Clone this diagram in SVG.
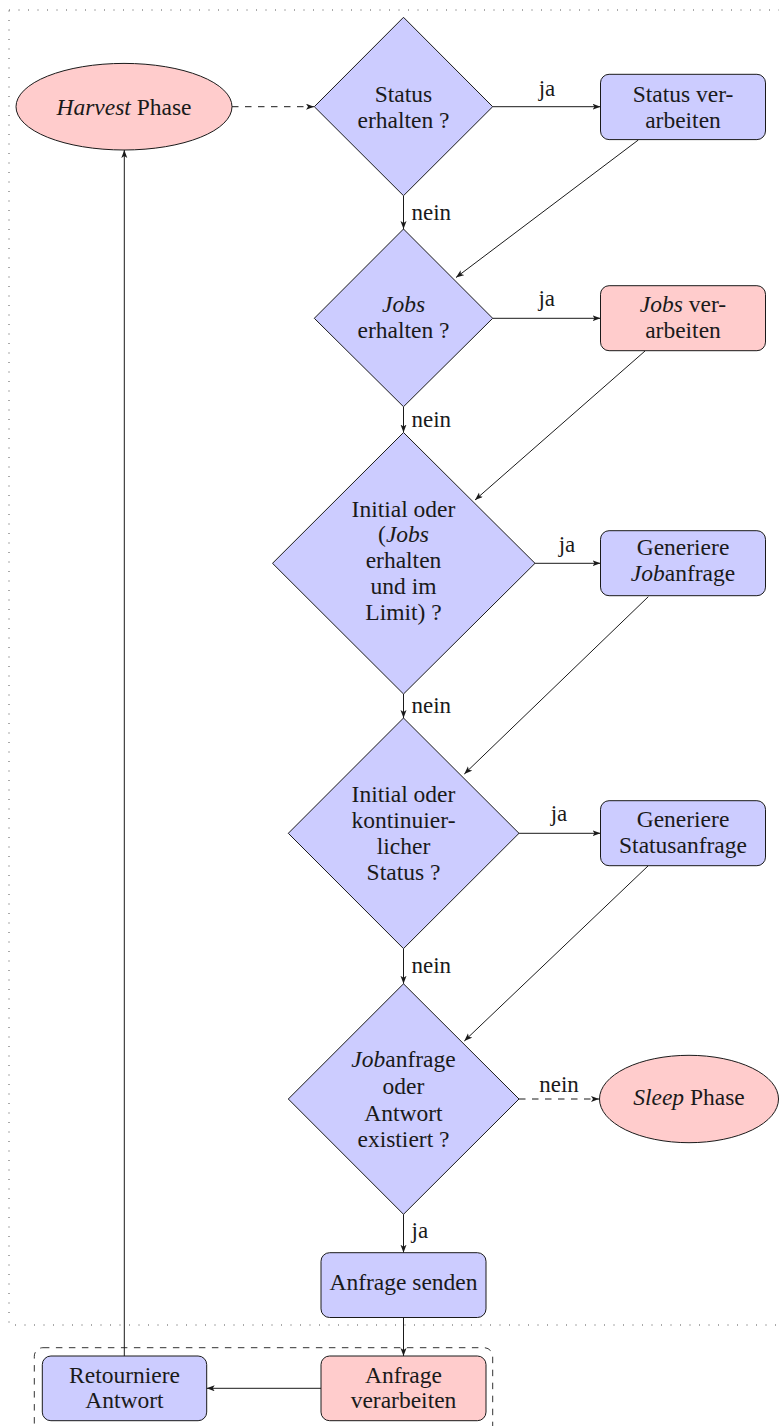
<svg xmlns="http://www.w3.org/2000/svg" width="779" height="1426" viewBox="0 0 779 1426" font-family="Liberation Serif, Times New Roman, serif">
<style>
text{font-size:23.5px;fill:#1a1a1a;text-anchor:middle}
.lbl{font-size:23px}
.w{text-anchor:start}
.i{font-style:italic}
.blue{fill:#ccccff;stroke:#1a1a1a;stroke-width:1}
.pink{fill:#ffcccc;stroke:#1a1a1a;stroke-width:1}
.e{fill:none;stroke:#1a1a1a;stroke-width:1}
.d{stroke-dasharray:6.5 6.5}
</style>
<defs>
<marker id="ah" markerUnits="userSpaceOnUse" markerWidth="10" markerHeight="8" refX="8" refY="3" orient="auto">
<path d="M8,3 L0,0 L2,3 L0,6 Z" fill="#1a1a1a"/>
</marker>
</defs>
<rect x="9" y="10" width="790" height="1315" fill="none" stroke="#555" stroke-width="1" stroke-dasharray="1 8.5"/>
<rect x="34.3" y="1347.7" width="458.4" height="90" rx="8.6" fill="none" stroke="#333" stroke-width="1" stroke-dasharray="6.5 6.5"/>
<g id="connectors">
<line class="e d" x1="232" y1="106.7" x2="314" y2="106.7" marker-end="url(#ah)"/>
<line class="e" x1="492.7" y1="106.7" x2="600.5" y2="106.7" marker-end="url(#ah)"/>
<text class="lbl" x="547" y="95.5">ja</text>
<line class="e" x1="403.5" y1="195.7" x2="403.5" y2="229" marker-end="url(#ah)"/>
<text class="lbl w" x="411.5" y="220">nein</text>
<line class="e" x1="638.3" y1="140" x2="456" y2="277.5" marker-end="url(#ah)"/>
<line class="e" x1="492.7" y1="318.3" x2="600.5" y2="318.3" marker-end="url(#ah)"/>
<text class="lbl" x="546.7" y="306">ja</text>
<line class="e" x1="403.5" y1="406.7" x2="403.5" y2="432.5" marker-end="url(#ah)"/>
<text class="lbl w" x="411.5" y="427">nein</text>
<line class="e" x1="645" y1="351" x2="475" y2="500" marker-end="url(#ah)"/>
<line class="e" x1="535" y1="563.3" x2="600.5" y2="563.3" marker-end="url(#ah)"/>
<text class="lbl" x="567" y="551.7">ja</text>
<line class="e" x1="403.5" y1="694" x2="403.5" y2="718" marker-end="url(#ah)"/>
<text class="lbl w" x="411.5" y="713.3">nein</text>
<line class="e" x1="648.3" y1="596.7" x2="464.3" y2="774" marker-end="url(#ah)"/>
<line class="e" x1="519" y1="833.3" x2="600.5" y2="833.3" marker-end="url(#ah)"/>
<text class="lbl" x="559" y="820.7">ja</text>
<line class="e" x1="403.5" y1="948.6" x2="403.5" y2="983.8" marker-end="url(#ah)"/>
<text class="lbl w" x="411.5" y="973.3">nein</text>
<line class="e" x1="648.3" y1="865.7" x2="464.3" y2="1041" marker-end="url(#ah)"/>
<line class="e d" x1="519" y1="1099" x2="599" y2="1099" marker-end="url(#ah)"/>
<text class="lbl" x="559" y="1091.7">nein</text>
<line class="e" x1="403.5" y1="1214.3" x2="403.5" y2="1252.7" marker-end="url(#ah)"/>
<text class="lbl w" x="411.5" y="1238">ja</text>
<line class="e" x1="403.5" y1="1317.5" x2="403.5" y2="1356" marker-end="url(#ah)"/>
<line class="e" x1="321" y1="1388.3" x2="206.7" y2="1388.3" marker-end="url(#ah)"/>
<line class="e" x1="124.3" y1="1356" x2="124.3" y2="150" marker-end="url(#ah)"/>
</g>
<g id="harvest">
<ellipse class="pink" cx="124" cy="106.7" rx="108" ry="43.3"/>
<text x="124" y="114.5"><tspan class="i">Harvest</tspan> Phase</text>
</g>
<g id="d1">
<polygon class="blue" points="403.5,17.3 492.7,106.7 403.5,195.7 314.3,106.7"/>
<text x="403.5" y="101.7">Status</text>
<text x="403.5" y="128">erhalten ?</text>
</g>
<g id="statusverarbeiten">
<rect class="blue" x="600.5" y="74.3" width="165" height="65.3" rx="8.6"/>
<text x="683" y="101.7">Status ver-</text>
<text x="683" y="128">arbeiten</text>
</g>
<g id="d2">
<polygon class="blue" points="403.5,229 492.7,318.3 403.5,406.7 314.3,318.3"/>
<text x="403.5" y="311.7" class="i">Jobs</text>
<text x="403.5" y="338">erhalten ?</text>
</g>
<g id="jobsverarbeiten">
<rect class="pink" x="600.5" y="285.7" width="165" height="65" rx="8.6"/>
<text x="683" y="311.7"><tspan class="i">Jobs</tspan> ver-</text>
<text x="683" y="338">arbeiten</text>
</g>
<g id="d3">
<polygon class="blue" points="403.5,432.5 535,563.3 403.5,694 272.5,563.3"/>
<text x="403.5" y="516.7">Initial oder</text>
<text x="403.5" y="542.2">(<tspan class="i">Jobs</tspan></text>
<text x="403.5" y="567.8">erhalten</text>
<text x="403.5" y="593.5">und im</text>
<text x="403.5" y="619.5">Limit) ?</text>
</g>
<g id="generierejob">
<rect class="blue" x="600.5" y="530.7" width="165" height="65" rx="8.6"/>
<text x="683" y="555">Generiere</text>
<text x="683" y="580.7"><tspan class="i">Job</tspan>anfrage</text>
</g>
<g id="d4">
<polygon class="blue" points="403.5,718 519,833.3 403.5,948.6 288.3,833.3"/>
<text x="403.5" y="801.7">Initial oder</text>
<text x="403.5" y="828">kontinuier-</text>
<text x="403.5" y="854">licher</text>
<text x="403.5" y="880">Status ?</text>
</g>
<g id="generierestatus">
<rect class="blue" x="600.5" y="800.7" width="165" height="65" rx="8.6"/>
<text x="683" y="826.7">Generiere</text>
<text x="683" y="852.7">Statusanfrage</text>
</g>
<g id="d5">
<polygon class="blue" points="403.5,983.8 519,1099 403.5,1214.3 288.3,1099"/>
<text x="403.5" y="1067"><tspan class="i">Job</tspan>anfrage</text>
<text x="403.5" y="1093.5">oder</text>
<text x="403.5" y="1120.5">Antwort</text>
<text x="403.5" y="1146.7">existiert ?</text>
</g>
<g id="sleep">
<ellipse class="pink" cx="689" cy="1099" rx="89.5" ry="43.7"/>
<text x="689" y="1105"><tspan class="i">Sleep</tspan> Phase</text>
</g>
<g id="anfragesenden">
<rect class="blue" x="321" y="1252.7" width="165" height="64.8" rx="8.6"/>
<text x="403.5" y="1290">Anfrage senden</text>
</g>
<g id="anfrageverarbeiten">
<rect class="pink" x="321" y="1356" width="165" height="64.7" rx="8.6"/>
<text x="403.5" y="1383.3">Anfrage</text>
<text x="403.5" y="1408.3">verarbeiten</text>
</g>
<g id="retourniere">
<rect class="blue" x="42.3" y="1356" width="164.4" height="64.7" rx="8.6"/>
<text x="124.5" y="1383.3">Retourniere</text>
<text x="124.5" y="1408.3">Antwort</text>
</g>
</svg>
